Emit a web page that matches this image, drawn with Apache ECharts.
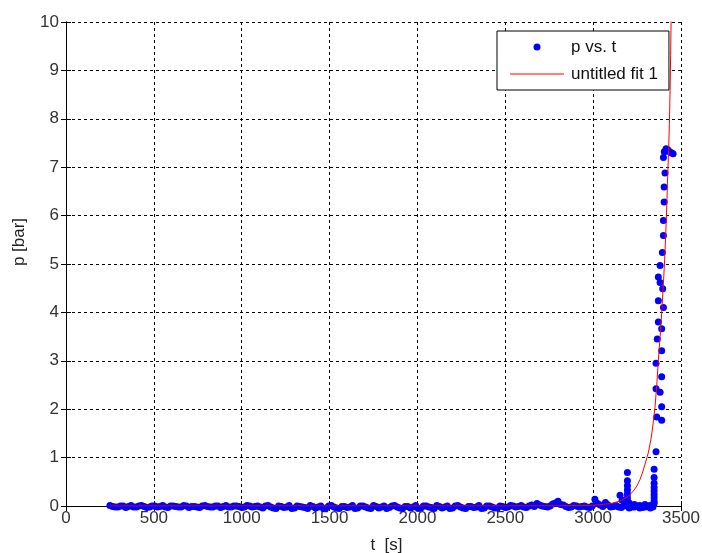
<!DOCTYPE html>
<html>
<head>
<meta charset="utf-8">
<script src="https://cdn.jsdelivr.net/npm/echarts@6/dist/echarts.min.js"></script>
<style>
  html, body { margin: 0; padding: 0; background: #fff; }
  #chart { width: 702px; height: 553px; }
</style>
</head>
<body>
<div id="chart"></div>
<script>
// measured points, [t (s), p (bar)]
const baseline = [
  [250, 0.01], [280, -0.02], [310, 0.00], [340, -0.03], [370, 0.01], [400, -0.02], [430, 0.01], [460, -0.03],
  [490, 0.00], [520, -0.02], [550, 0.01], [580, -0.03], [610, 0.00], [640, -0.02], [670, 0.01], [700, -0.03],
  [730, -0.01], [760, -0.03], [790, 0.01], [820, -0.02], [850, 0.00], [880, -0.03], [910, 0.01], [940, -0.02],
  [970, 0.00], [1000, -0.03], [1030, 0.01], [1060, -0.02], [1090, 0.00], [1120, -0.04],
  [1150, 0.01], [1180, -0.04], [1210, 0.00], [1240, -0.03], [1270, 0.01], [1300, -0.04], [1330, -0.01], [1360, -0.03],
  [1390, 0.01], [1420, -0.04], [1450, 0.00], [1480, -0.04], [1510, 0.01], [1540, -0.04], [1570, -0.01], [1600, -0.03],
  [1630, 0.01], [1660, -0.04], [1690, 0.00], [1720, -0.04], [1750, 0.01], [1780, -0.04], [1810, 0.00], [1840, -0.03],
  [1870, 0.01], [1900, -0.04], [1930, -0.01], [1960, -0.04], [1990, 0.01], [2020, -0.04], [2050, 0.00], [2080, -0.03],
  [2110, 0.01], [2140, -0.04], [2170, 0.00], [2200, -0.04], [2230, 0.01], [2260, -0.04], [2290, -0.01], [2320, -0.03],
  [2350, 0.01], [2380, -0.04], [2410, 0.00], [2440, -0.04],
  [2470, 0.00], [2500, -0.03], [2530, 0.01], [2560, -0.02], [2590, 0.01], [2620, -0.03], [2650, 0.02], [2680, 0.05],
  [2710, 0.00], [2740, -0.02], [2770, 0.04], [2800, 0.10], [2830, 0.02], [2860, -0.03], [2890, 0.01], [2920, -0.02],
  [2950, 0.00], [2980, -0.03], [3010, 0.14], [3040, 0.02], [3070, 0.07], [3100, -0.02], [3130, 0.01], [3160, -0.03],
  [3190, 0.02], [3220, -0.02], [3250, 0.00], [3280, -0.03], [3310, 0.00], [3340, -0.02],
  [3205, -0.04], [3235, 0.03], [3265, -0.04], [3295, 0.03], [3325, -0.04]
];

// readings in between the ones above
const baselineMid = [
  [265, -0.01], [295, -0.02], [325, 0.00], [355, -0.01], [385, -0.02], [415, 0.00], [445, -0.01], [475, -0.02],
  [505, 0.00], [535, -0.01], [565, -0.02], [595, 0.00], [625, -0.01], [655, -0.02], [685, 0.00], [715, -0.01],
  [745, -0.02], [775, 0.00], [805, -0.01], [835, -0.02], [865, 0.00], [895, -0.01], [925, -0.02], [955, 0.00],
  [985, -0.01], [1015, -0.02], [1045, 0.00], [1075, -0.01], [1105, -0.02], [1135, 0.00],
  [1165, -0.02], [1195, -0.05], [1225, -0.01], [1255, -0.02], [1285, -0.05], [1315, 0.00], [1345, -0.02], [1375, -0.05],
  [1405, -0.01], [1435, -0.02], [1465, -0.05], [1495, 0.00], [1525, -0.02], [1555, -0.05], [1585, -0.01], [1615, -0.02],
  [1645, -0.05], [1675, 0.00], [1705, -0.02], [1735, -0.05], [1765, -0.01], [1795, -0.02], [1825, -0.05], [1855, 0.00],
  [1885, -0.02], [1915, -0.05], [1945, -0.01], [1975, -0.02], [2005, -0.05], [2035, 0.00], [2065, -0.02], [2095, -0.05],
  [2125, -0.01], [2155, -0.02], [2185, -0.05], [2215, 0.00], [2245, -0.02], [2275, -0.05], [2305, -0.01], [2335, -0.02],
  [2365, -0.05], [2395, 0.00], [2425, -0.02], [2455, -0.04],
  [2485, -0.01], [2515, -0.02], [2545, 0.00], [2575, -0.01], [2605, -0.02], [2635, 0.00], [2665, -0.01], [2695, 0.02],
  [2725, -0.01], [2755, 0.00], [2785, 0.06], [2815, 0.03], [2845, -0.01], [2875, -0.02], [2905, 0.00], [2935, -0.01],
  [2965, -0.02], [2995, 0.00], [3025, 0.05], [3055, -0.01], [3085, 0.02], [3115, -0.01], [3145, -0.02], [3175, 0.00],
  [3205, 0.01], [3235, -0.02], [3265, 0.01], [3295, -0.02], [3325, 0.01]
];

const rise = [
  [3153, 0.22], [3165, 0.12], [3180, 0.08],
  [3195, 0.69], [3195, 0.52], [3195, 0.42], [3195, 0.33], [3195, 0.25], [3195, 0.17], [3195, 0.10], [3205, 0.06],
  [3347, 0.76], [3347, 0.59], [3347, 0.47], [3347, 0.38], [3347, 0.31], [3347, 0.24], [3347, 0.17], [3347, 0.10], [3347, 0.05],
  [3358, 1.12], [3362, 1.84], [3390, 1.77], [3390, 2.05], [3358, 2.42], [3381, 2.35], [3390, 2.67], [3358, 2.95],
  [3390, 3.21], [3365, 3.45], [3390, 3.66], [3371, 3.80], [3400, 4.10], [3371, 4.24], [3396, 4.49], [3381, 4.62],
  [3371, 4.73], [3381, 4.97], [3394, 5.24], [3400, 5.59], [3400, 5.90], [3404, 6.28], [3404, 6.59], [3409, 6.88],
  [3400, 7.20], [3405, 7.32], [3415, 7.38], [3425, 7.36], [3435, 7.32], [3445, 7.30], [3455, 7.28]
];

// fitted curve
const fitCurve = [
  [250, 0], [1000, 0], [2000, 0], [2500, 0.001], [2800, 0.003], [3000, 0.015], [3100, 0.05], [3150, 0.10],
  [3172, 0.14], [3200, 0.20], [3229, 0.31], [3250, 0.42], [3267, 0.55], [3280, 0.68], [3295, 0.86], [3314, 1.10],
  [3330, 1.40], [3343, 1.75], [3352, 2.04], [3362, 2.50], [3371, 3.00], [3381, 3.50], [3390, 3.97], [3400, 4.60],
  [3407, 5.10], [3413, 5.60], [3419, 6.20], [3424, 6.80], [3430, 7.40], [3434, 7.90], [3438, 8.60], [3441, 9.30],
  [3444, 10.10]
];

const font = 'Liberation Sans, Arial, sans-serif';
const chart = echarts.init(document.getElementById('chart'));

const frameAxis = {
  axisLine: { show: true, lineStyle: { color: '#000', width: 1 } },
  axisTick: { show: true, inside: true, length: 5, lineStyle: { color: '#000' } },
  axisLabel: { show: false },
  splitLine: { show: false }
};

chart.setOption({
  animation: false,
  backgroundColor: '#fff',
  grid: { left: 66, right: 21, top: 22, bottom: 47, containLabel: false, outerBoundsMode: 'none' },
  legend: {
    orient: 'vertical',
    left: 497,
    top: 31,
    padding: [7, 11, 7, 13],
    itemWidth: 54,
    itemHeight: 7,
    itemGap: 9,
    backgroundColor: '#fff',
    borderColor: '#000',
    borderWidth: 1,
    borderRadius: 0,
    textStyle: { fontFamily: font, fontSize: 17, color: '#111', lineHeight: 18, padding: [0, 0, 0, 2] },
    data: [
      { name: 'p vs. t', icon: 'circle' },
      { name: 'untitled fit 1', icon: 'path://M0,0h54v1h-54z' }
    ]
  },
  xAxis: [
    {
      type: 'value', min: 0, max: 3500, interval: 500,
      name: 't  [s]', nameLocation: 'middle', nameGap: 31,
      nameTextStyle: { fontFamily: font, fontSize: 17, color: '#222', padding: [0, 0, 0, 26] },
      axisLine: { show: true, onZero: false, lineStyle: { color: '#000' } },
      axisTick: { show: true, inside: true, length: 5, lineStyle: { color: '#000' } },
      axisLabel: { fontFamily: font, fontSize: 17, color: '#333', margin: 4, formatter: v => String(v) },
      splitLine: { show: true, lineStyle: { color: '#000', type: [3, 3], width: 1 } }
    },
    Object.assign({ type: 'value', position: 'top', min: 0, max: 3500, interval: 500 }, frameAxis)
  ],
  yAxis: [
    {
      type: 'value', min: 0, max: 10, interval: 1,
      name: 'p [bar]', nameLocation: 'middle', nameGap: 38,
      nameTextStyle: { fontFamily: font, fontSize: 17, color: '#222', padding: [0, 0, 0, 44] },
      axisLine: { show: true, onZero: false, lineStyle: { color: '#000' } },
      axisTick: { show: true, inside: true, length: 5, lineStyle: { color: '#000' } },
      axisLabel: { fontFamily: font, fontSize: 17, color: '#333', margin: 7, formatter: v => String(v) },
      splitLine: { show: true, lineStyle: { color: '#000', type: [3, 3], width: 1 } }
    },
    Object.assign({ type: 'value', position: 'right', min: 0, max: 10, interval: 1 }, frameAxis)
  ],
  series: [
    {
      name: 'p vs. t',
      type: 'scatter',
      data: baseline.concat(baselineMid, rise),
      symbol: 'circle',
      symbolSize: 7,
      clip: false,
      itemStyle: { color: '#0000ff', opacity: 1 },
      z: 2
    },
    {
      name: 'untitled fit 1',
      type: 'line',
      data: fitCurve,
      showSymbol: false,
      symbol: 'none',
      clip: true,
      lineStyle: { color: '#ff0000', width: 1 },
      itemStyle: { color: '#ff0000' },
      z: 3
    }
  ]
});
</script>
</body>
</html>
